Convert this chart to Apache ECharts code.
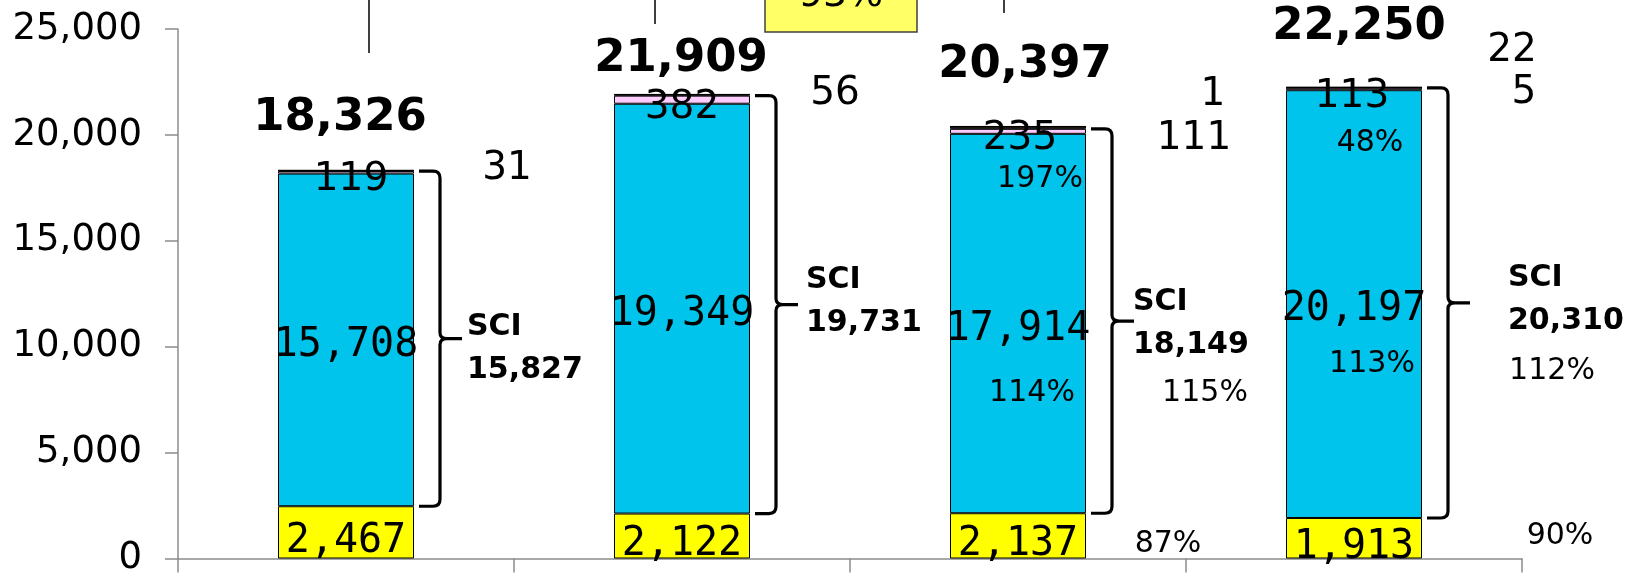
<!DOCTYPE html>
<html>
<head>
<meta charset="utf-8">
<script src="https://cdn.jsdelivr.net/npm/echarts@6/dist/echarts.min.js"></script>
<style>
  html, body { margin: 0; padding: 0; background: #fff; }
  #chart { width: 1642px; height: 577px; }
</style>
</head>
<body>
<div id="chart"></div>
<script>
// values
const categories = ["1", "2", "3", "4"];
const yellowVals = [2467, 2122, 2137, 1913];
const cyanVals = [15708, 19349, 17914, 20197];
const pinkVals = [119, 382, 235, 113];
const brownVals = [31, 56, 111, 22];
const blackVals = [0, 0, 1, 5];
const totals = [18326, 21909, 20397, 22250];
const sciTotals = [15827, 19731, 18149, 20310];
const pinkRatio = ["", "", "197%", "48%"];
const cyanRatio = ["", "", "114%", "113%"];
const sciRatio = ["", "", "115%", "112%"];
const yellowRatio = ["", "", "87%", "90%"];

// label placement (pixels)
const pinkOffsets = [[5, 8], [0, 8], [2, 8], [-2, 8]];
const brownOffsets = [[161, -2], [153, -1], [176, 11], [158, -37]];
const blackOffsets = [[0, 0], [0, 0], [195, -32], [170, 6]];
const totalOffsets = [[-6, -52], [-1, -35], [7, -61], [5, -60]];
const pinkRatioOffsets = [[0, 0], [0, 0], [22, 48], [16, 54]];
const cyanRatioOffsets = [[0, 0], [0, 0], [14, 70], [18, 60]];
const sciRatioOffsets = [[0, 0], [0, 0], [187, 70], [198, 67]];
const yellowRatioOffsets = [[0, 0], [0, 0], [150, 8], [206, -2]];
const sciLabelDx = [53, 56, 47, 86];
const sciLabelDy = [10, -3, 3, -3];

const BAR_W = 136;
const fmt = (v) => v.toLocaleString("en-US");
const monoFont = { fontFamily: "DejaVu Sans Mono", fontSize: 40, color: "#000" };
const sansFont = { fontFamily: "DejaVu Sans", fontSize: 39, color: "#000" };

const yellowMid = yellowVals.map((v) => v / 2);
const cyanMid = yellowVals.map((v, i) => v + cyanVals[i] / 2);
const pinkMid = yellowVals.map((v, i) => v + cyanVals[i] + pinkVals[i] / 2);

function barSeries(name, vals, color, font, offsets) {
  return {
    name,
    type: "bar",
    stack: "total",
    barWidth: BAR_W,
    itemStyle: { color, borderColor: "#000", borderWidth: 1 },
    label: Object.assign({ show: true, position: "inside", formatter: (p) => fmt(p.value) }, font),
    data: vals.map((v, i) => ({
      value: v,
      label: { show: v > 0, offset: offsets[i] },
    })),
  };
}

function textSeries(name, anchors, texts, offsets, font) {
  return {
    name,
    type: "scatter",
    symbolSize: 1,
    silent: true,
    z: 10,
    itemStyle: { color: "transparent", opacity: 1 },
    label: Object.assign({ show: true, position: "inside", color: "#000", fontFamily: "DejaVu Sans" }, font),
    data: anchors.map((a, i) => ({
      value: [i, a],
      label: { show: texts[i] !== "", formatter: String(texts[i]), offset: offsets[i] },
    })),
  };
}

const same = (o) => categories.map(() => o);

const myChart = echarts.init(document.getElementById("chart"));
myChart.setOption({
  animation: false,
  grid: { left: 178, right: 120, top: 29, bottom: 16 },
  xAxis: {
    type: "category",
    data: categories,
    axisLine: { lineStyle: { color: "#8c8c8c", width: 1.5 } },
    axisTick: { show: true, length: 14, lineStyle: { color: "#8c8c8c", width: 1.5 } },
    axisLabel: { show: false },
  },
  yAxis: {
    type: "value",
    min: 0,
    max: 25000,
    interval: 5000,
    splitLine: { show: false },
    axisLine: { show: true, lineStyle: { color: "#8c8c8c", width: 1.5 } },
    axisTick: { show: true, length: 13, lineStyle: { color: "#8c8c8c", width: 1.5 } },
    axisLabel: {
      margin: 36,
      color: "#000",
      fontFamily: "DejaVu Sans",
      fontSize: 37,
      formatter: (v) => fmt(v),
    },
  },
  series: [
    barSeries("yellow", yellowVals, "#ffff00", monoFont, same([0, 9])),
    barSeries("cyan", cyanVals, "#00c4eb", monoFont, same([0, 6])),
    barSeries("pink", pinkVals, "#ffccff", sansFont, pinkOffsets),
    barSeries("brown", brownVals, "#3f2f1f", sansFont, brownOffsets),
    barSeries("black", blackVals, "#000000", sansFont, blackOffsets),
    textSeries("totals", totals, totals.map(fmt), totalOffsets, { fontSize: 45, fontWeight: "bold" }),
    textSeries("pinkRatio", pinkMid, pinkRatio, pinkRatioOffsets, { fontSize: 30 }),
    textSeries("cyanRatio", cyanMid, cyanRatio, cyanRatioOffsets, { fontSize: 30 }),
    textSeries("sciRatio", cyanMid, sciRatio, sciRatioOffsets, { fontSize: 30 }),
    textSeries("yellowRatio", yellowMid, yellowRatio, yellowRatioOffsets, { fontSize: 30 }),
    {
      name: "sci",
      type: "custom",
      silent: true,
      z: 5,
      data: categories.map((c, i) => [i, yellowVals[i], yellowVals[i] + cyanVals[i] + pinkVals[i], sciTotals[i]]),
      renderItem: (params, api) => {
        const i = api.value(0);
        const lo = api.coord([i, api.value(1)]);
        const hi = api.coord([i, api.value(2)]);
        const R = lo[0] + BAR_W / 2;
        const yb = lo[1], yt = hi[1], ym = (yt + yb) / 2;
        const x0 = R + 5, xv = R + 26, xn = R + 48, r = 7;
        const d =
          `M${x0} ${yt} L${xv - r} ${yt} Q${xv} ${yt} ${xv} ${yt + r} L${xv} ${ym - 6} ` +
          `Q${xv} ${ym} ${xv + 7} ${ym} L${xn} ${ym} M${xv + 7} ${ym} Q${xv} ${ym} ${xv} ${ym + 6} ` +
          `L${xv} ${yb - r} Q${xv} ${yb} ${xv - r} ${yb} L${x0} ${yb}`;
        return {
          type: "group",
          children: [
            { type: "path", shape: { pathData: d }, style: { stroke: "#000", lineWidth: 3.2, fill: null } },
            {
              type: "text",
              style: {
                text: "SCI\n" + fmt(api.value(3)),
                x: R + sciLabelDx[i],
                y: ym + sciLabelDy[i],
                align: "left",
                verticalAlign: "middle",
                font: 'bold 30px "DejaVu Sans"',
                lineHeight: 43,
                fill: "#000",
              },
            },
          ],
        };
      },
    },
  ],
  graphic: [
    { type: "line", shape: { x1: 369, y1: 0, x2: 369, y2: 53 }, style: { stroke: "#000", lineWidth: 1.5 } },
    { type: "line", shape: { x1: 655, y1: 0, x2: 655, y2: 24 }, style: { stroke: "#000", lineWidth: 1.5 } },
    { type: "line", shape: { x1: 1004, y1: 0, x2: 1004, y2: 13 }, style: { stroke: "#000", lineWidth: 1.5 } },
    { type: "rect", shape: { x: 765, y: -10, width: 152, height: 42 }, style: { fill: "#ffff66", stroke: "#404040", lineWidth: 1.5 } },
    { type: "text", x: 841, y: 15, style: { text: "93%", align: "center", verticalAlign: "bottom", font: '38px "DejaVu Sans"', fill: "#000" } },
  ],
});
</script>
</body>
</html>
